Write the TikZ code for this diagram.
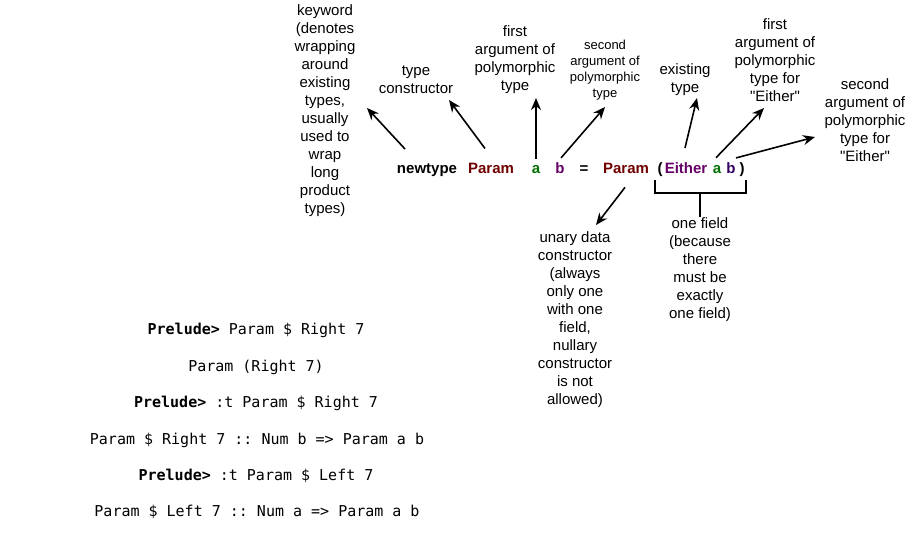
\documentclass[tikz,border=0pt]{standalone}
\usepackage{fontspec}
\setmainfont{Liberation Sans}[Ligatures=TeXOff]
\setmonofont{DejaVu Sans Mono}
\usetikzlibrary{arrows.meta}
\definecolor{paramred}{HTML}{700000}
\definecolor{agreen}{HTML}{007000}
\definecolor{bpurple}{HTML}{660066}
\definecolor{eitherb}{HTML}{330066}
\tikzset{
  note/.style={align=center, font=\fontsize{15}{18}\selectfont, inner sep=1pt},
  smallnote/.style={align=center, font=\fontsize{13}{16}\selectfont, inner sep=1pt},
  word/.style={anchor=base, font=\fontsize{15}{18}\selectfont\bfseries, inner sep=0pt},
  ghci/.style={font=\fontsize{15}{18}\selectfont\ttfamily, inner sep=1pt},
  arr/.style={-{Stealth[length=12pt,width=10pt]}, line width=1.6pt},
}
\begin{document}
\begin{tikzpicture}[x=1pt,y=-1pt]
\useasboundingbox (0,0) rectangle (907,553);
% the declaration
\node [word] (newtype) at (427,174) {newtype};
\node [word, text=paramred] (tycon) at (491,174) {Param};
\node [word, text=agreen] (arga) at (536,174) {a};
\node [word, text=bpurple] (argb) at (560,174) {b};
\node [word] (eq) at (584,174) {=};
\node [word, text=paramred] (dacon) at (626,174) {Param};
\node [word] (lpar) at (660,174) {(};
\node [word, text=bpurple] (either) at (686,174) {Either};
\node [word, text=agreen] (eitha) at (717,174) {a};
\node [word, text=eitherb] (eithb) at (731,174) {b};
\node [word] (rpar) at (742,174) {)};
% labels
\node [note] (keyword) at (325,111) {keyword\\(denotes\\wrapping\\around\\existing\\types,\\usually\\used to\\wrap\\long\\product\\types)};
\node [note] (typecons) at (416,80) {type\\constructor};
\node [note] (firstarg) at (515,60) {first\\argument of\\polymorphic\\type};
\node [smallnote] (secondarg) at (605,70) {second\\argument of\\polymorphic\\type};
\node [note] (existing) at (685,80) {existing\\type};
\node [note] (firsteither) at (775,60) {first\\argument of\\polymorphic\\type for\\"Either"};
\node [note] (secondeither) at (865,120) {second\\argument of\\polymorphic\\type for\\"Either"};
\node [note] (unary) at (575,320) {unary data\\constructor\\(always\\only one\\with one\\field,\\nullary\\constructor\\is not\\allowed)};
\node [note] (onefield) at (700,270) {one field\\(because\\there\\must be\\exactly\\one field)};
% arrow tips
\coordinate (kwtip) at (367,108);
\coordinate (tctip) at (449,100);
\coordinate (fatip) at (536,98);
\coordinate (satip) at (605,107);
\coordinate (extip) at (697,98);
\coordinate (fetip) at (764,108);
\coordinate (setip) at (815,137);
\coordinate (untip) at (596,225);
\draw [arr] (newtype.north) ++(-22,-15) -- (kwtip);
\draw [arr] (tycon.north) ++(-6,-15) -- (tctip);
\draw [arr] (arga.north) ++(0,-7) -- (fatip);
\draw [arr] (argb.north) ++(1,-5) -- (satip);
\draw [arr] (either.north) ++(-1,-15) -- (extip);
\draw [arr] (eitha.north) ++(-1,-8) -- (fetip);
\draw [arr] (eithb.north) ++(5,-5) -- (setip);
\draw [arr] (dacon.south) ++(-1,13) -- (untip);
% bracket under the field
\coordinate (brl) at (655,180);
\coordinate (brr) at (746,180);
\coordinate (brmid) at (700,193);
\draw [line width=1.6pt] (brl) -- (655,193) -- (746,193) -- (brr);
\draw [line width=1.6pt] (brmid) -- (onefield.north);
% ghci session
\node [ghci] (q1) at (256,330) {\textbf{Prelude>} Param \$ Right 7};
\node [ghci] (r1) at (256,367) {Param (Right 7)};
\node [ghci] (q2) at (256,403) {\textbf{Prelude>} :t Param \$ Right 7};
\node [ghci] (r2) at (257,440) {Param \$ Right 7 :: Num b => Param a b};
\node [ghci] (q3) at (256,476) {\textbf{Prelude>} :t Param \$ Left 7};
\node [ghci] (r3) at (257,512) {Param \$ Left 7 :: Num a => Param a b};
\end{tikzpicture}
\end{document}
